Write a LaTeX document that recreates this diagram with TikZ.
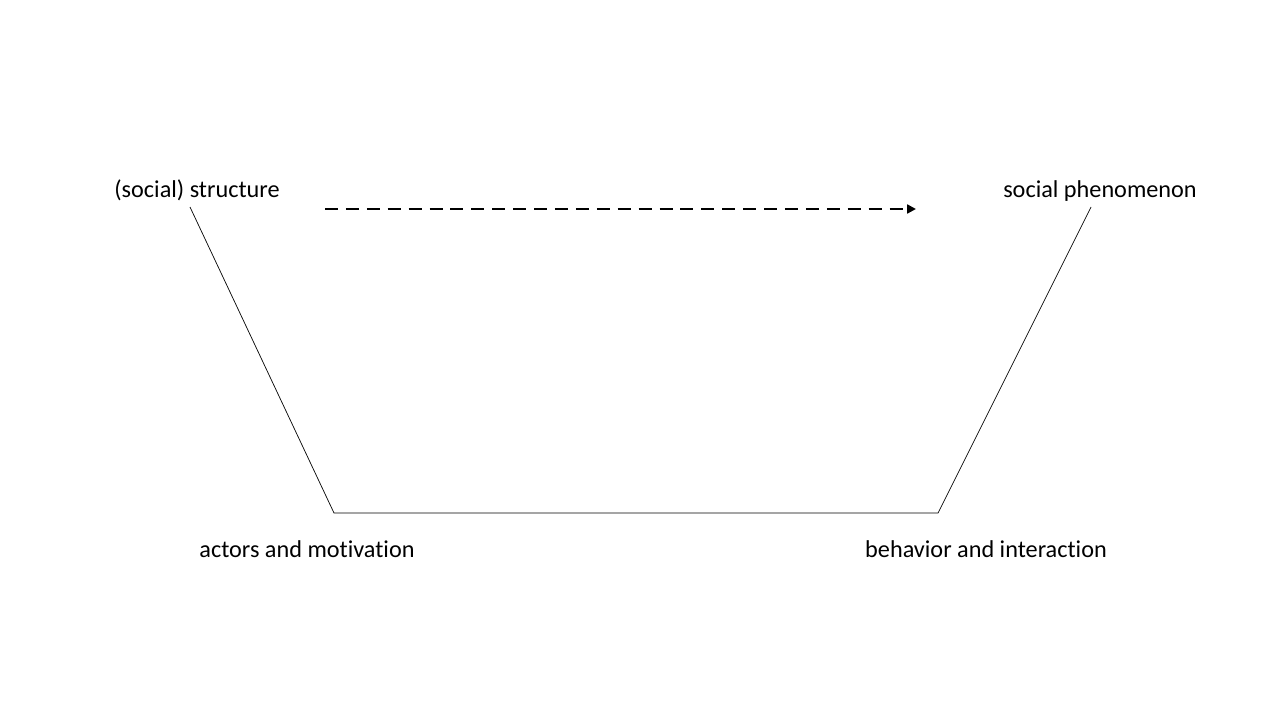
\documentclass[tikz,border=0pt]{standalone}
\usepackage{fontspec}
\setmainfont[Ligatures=NoCommon]{Carlito}
\usepackage{tikz}
\usetikzlibrary{arrows.meta}

\begin{document}
\begin{tikzpicture}[x=0.02cm, y=-0.02cm,
    lbl/.style={font=\fontsize{13.8pt}{16pt}\selectfont, inner sep=0pt,
        text height=0.75em, text depth=0.25em}]
    \useasboundingbox (0,0) rectangle (1280,720);
    \node[lbl] (struct) at (197,193) {(social) structure};
    \node[lbl] (phen) at (1100,193) {social phenomenon};
    \node[lbl] (actors) at (307,553) {actors and motivation};
    \node[lbl] (behav) at (986,553) {behavior and interaction};
    \coordinate (a) at (190,207);
    \coordinate (b) at (334,513);
    \coordinate (c) at (938,513);
    \coordinate (d) at (1091,207);
    \coordinate (s) at (325,209);
    \coordinate (e) at (916,209);
    \draw[line width=0.4pt] (a) -- (b) -- (c) -- (d);
    \draw[line width=1.5pt, dash pattern=on 7.4pt off 4.5pt, -{Triangle[length=5pt, width=5pt]}] (s) -- (e);
\end{tikzpicture}
\end{document}
